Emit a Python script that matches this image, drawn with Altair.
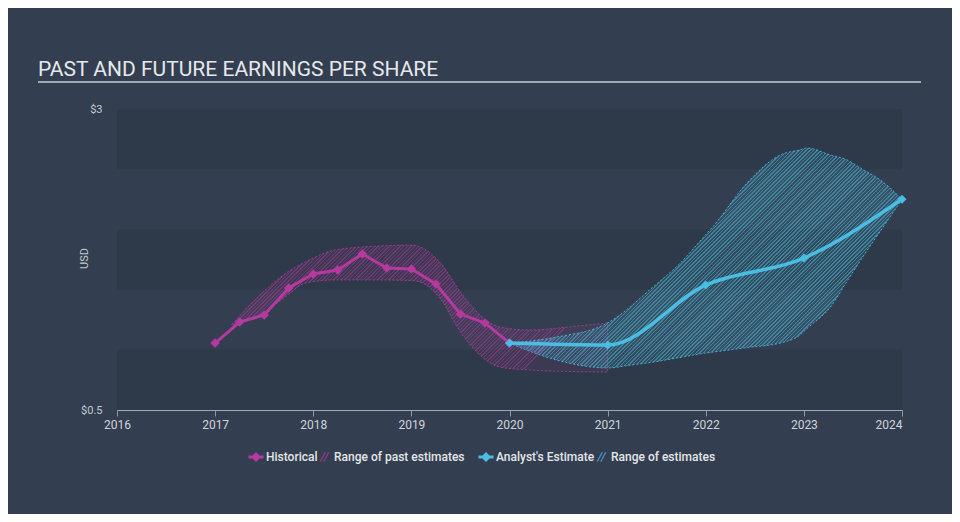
import altair as alt
import pandas as pd
import numpy as np

BG = "#333f50"
BAND = "#2e3a49"
PINK = "#b5399e"
BLUE = "#4bbde2"
FONT = "Roboto"
PW, PH = 785, 301

TITLE = "PAST AND FUTURE EARNINGS PER SHARE"

# Historical EPS (quarterly)
hist_t = [2017.0, 2017.25, 2017.5, 2017.75, 2018.0, 2018.25, 2018.5, 2018.75,
          2019.0, 2019.25, 2019.5, 2019.75, 2020.0]
hist_v = [1.056, 1.231, 1.289, 1.513, 1.630, 1.663, 1.796, 1.679,
          1.671, 1.547, 1.297, 1.223, 1.056]

# Analyst estimate
est_t = [2020, 2021, 2022, 2023, 2024]
est_v = [1.056, 1.04, 1.538, 1.762, 2.25]

# Range of past estimates
past_t = [2017.17, 2017.49, 2017.74, 2017.92, 2018.22, 2018.68, 2019.0, 2019.09,
          2019.29, 2019.50, 2019.70, 2019.90, 2020.21, 2020.6, 2021.0]
past_hi = [1.21, 1.48, 1.646, 1.729, 1.829, 1.862, 1.870, 1.854,
           1.729, 1.480, 1.289, 1.189, 1.164, 1.19, 1.223]
past_lo = [1.20, 1.306, 1.455, 1.555, 1.580, 1.580, 1.575, 1.563,
           1.430, 1.148, 0.957, 0.857, 0.832, 0.82, 0.816]

# Range of estimates
fut_t_hi = [2020.0, 2020.48, 2021.0, 2021.23, 2021.74, 2022.07, 2022.42, 2022.76,
            2023.03, 2023.44, 2023.78, 2024.0]
fut_hi = [1.056, 1.106, 1.223, 1.356, 1.721, 2.020, 2.385, 2.618,
          2.676, 2.577, 2.410, 2.25]
fut_t_lo = [2020.0, 2020.48, 2021.0, 2021.4, 2022.0, 2022.76, 2022.96, 2023.27,
            2023.6, 2024.0]
fut_lo = [1.056, 0.915, 0.849, 0.890, 0.973, 1.056, 1.123, 1.355, 1.771, 2.25]

# Background bands
band_lo = [0.5, 1.5, 2.5]
band_hi = [1.0, 2.0, 3.0]

LEG_A = ["Historical", "Range of past estimates"]
LEG_B = ["Analyst's Estimate", "Range of estimates"]
LINE_DIAMOND = "M-1.5,-0.28H1.5V0.28H-1.5Z M0,-1L1,0L0,1L-1,0Z"
HATCH = ("M-0.9,0.95L0.1,-0.95L0.4,-0.95L-0.6,0.95Z "
         "M-0.2,0.95L0.8,-0.95L1.1,-0.95L0.1,0.95Z")

xs = alt.Scale(domain=[2016, 2024], nice=False, zero=False)
ys = alt.Scale(domain=[0.5, 3], nice=False, zero=False)

hist = pd.DataFrame({"t": hist_t, "v": hist_v})
est = pd.DataFrame({"t": est_t, "v": est_v})
past = pd.DataFrame({"t": past_t, "hi": past_hi, "lo": past_lo})
fut_grid = sorted(set(fut_t_hi) | set(fut_t_lo))
fut = pd.DataFrame({
    "t": fut_grid,
    "hi": np.interp(fut_grid, fut_t_hi, fut_hi),
    "lo": np.interp(fut_grid, fut_t_lo, fut_lo),
})
bands = pd.DataFrame({"lo": band_lo, "hi": band_hi})


def hatch(rgb, alpha, base, t, hi, lo, spacing=2.6, frac=0.4):
    """Diagonal stripe fill as a sharp-stop linear gradient (bounding-box units)."""
    W = (max(t) - min(t)) * PW / 8.0
    H = (max(hi) - min(lo)) * PH / 2.5
    r = H / W
    n = int(round(W * (1 + r * r) / np.sqrt(2) / spacing))
    on = f"rgba({rgb},{alpha})"
    off = f"rgba({rgb},{base})"
    stops = []
    for i in range(n):
        a, b, c = i / n, (i + frac) / n, (i + 1) / n
        stops += [alt.GradientStop(color=on, offset=a), alt.GradientStop(color=on, offset=b),
                  alt.GradientStop(color=off, offset=b), alt.GradientStop(color=off, offset=c)]
    return alt.LinearGradient(gradient="linear", stops=stops, x1=0, y1=0, x2=1, y2=float(r))


x_axis = alt.Axis(
    values=[2016, 2017, 2018, 2019, 2020, 2021, 2022, 2023, 2024],
    format="d", title=None, grid=False,
    labelColor="#d0d4d9", labelFontSize=12, labelFont=FONT,
    labelFlush=False, labelPadding=3,
    labelAlign={"condition": {"test": "datum.value == 2024", "value": "right"}, "value": "center"},
    tickColor="#8e98a3", domainColor="#a0a8b1", tickSize=6,
)
y_axis = alt.Axis(
    values=[0.5, 3], labelExpr="'$' + datum.value", title="USD",
    grid=False, domain=False, ticks=False,
    labelColor="#c3c9cf", labelFontSize=11, labelFont=FONT, labelPadding=15,
    titleColor="#c3c9cf", titleFontSize=11, titleFont=FONT, titleFontWeight="normal",
    titleX=-33, titleY=149, titleAngle=270, titleBaseline="middle",
)

band_layer = alt.Chart(bands).mark_rect(color=BAND).encode(
    x=alt.value(0), x2=alt.value(PW),
    y=alt.Y("lo:Q", scale=ys, axis=y_axis), y2="hi:Q",
)

past_area = alt.Chart(past).mark_area(
    interpolate="monotone", fill=hatch("181,57,158", 0.5, 0.1, past_t, past_hi, past_lo),
    stroke=PINK, strokeWidth=1, strokeDash=[2, 2], strokeOpacity=0.85,
).encode(x=alt.X("t:Q", scale=xs, axis=x_axis), y=alt.Y("hi:Q", scale=ys), y2="lo:Q")

fut_area = alt.Chart(fut).mark_area(
    interpolate="monotone",
    fill=hatch("75,189,226", 0.55, 0.14, list(fut["t"]), list(fut["hi"]), list(fut["lo"])),
    stroke=BLUE, strokeWidth=1, strokeDash=[2, 2], strokeOpacity=0.85,
).encode(x=alt.X("t:Q", scale=xs), y=alt.Y("hi:Q", scale=ys), y2="lo:Q")

hist_line = alt.Chart(hist).mark_line(color=PINK, strokeWidth=3).encode(
    x=alt.X("t:Q", scale=xs), y=alt.Y("v:Q", scale=ys))
hist_pts = alt.Chart(hist).mark_point(shape="diamond", filled=True, size=90,
                                      color=PINK, opacity=1).encode(
    x=alt.X("t:Q", scale=xs), y=alt.Y("v:Q", scale=ys))

est_line = alt.Chart(est).mark_line(color=BLUE, strokeWidth=3.5, interpolate="monotone").encode(
    x=alt.X("t:Q", scale=xs), y=alt.Y("v:Q", scale=ys))
est_pts = alt.Chart(est).mark_point(shape="diamond", filled=True, size=80,
                                    color=BLUE, opacity=1).encode(
    x=alt.X("t:Q", scale=xs), y=alt.Y("v:Q", scale=ys))


def legend_layer(names, colors, lx):
    df = pd.DataFrame({"series": names, "t": [None] * len(names), "v": [None] * len(names)})
    return alt.Chart(df).mark_point(filled=True, opacity=1).encode(
        x=alt.X("t:Q", scale=xs), y=alt.Y("v:Q", scale=ys),
        color=alt.Color("series:N", scale=alt.Scale(domain=names, range=colors),
                        legend=alt.Legend(
                            title=None, orient="none", legendX=lx, legendY=342,
                            direction="horizontal", padding=0, columnPadding=0,
                            symbolSize=100, symbolStrokeWidth=0, labelOffset=4,
                            labelColor="#e3e6ea", labelFontSize=12, labelFont=FONT,
                            labelFontWeight=500,
                        )),
        shape=alt.Shape("series:N", scale=alt.Scale(domain=names, range=[LINE_DIAMOND, HATCH])),
    )


leg_a = legend_layer(LEG_A, [PINK, "#8e3a86"], 133)
leg_b = legend_layer(LEG_B, [BLUE, "#3f93b8"], 363)

title_df = pd.DataFrame({"txt": [TITLE]})
title_layer = alt.Chart(title_df).mark_text(
    align="left", baseline="alphabetic", fontSize=21, font=FONT,
    color="#e6e8eb",
).encode(x=alt.value(-79), y=alt.value(-33), text="txt:N")
rule_layer = alt.Chart(title_df).mark_rule(color="#a3a9b0", strokeWidth=2).encode(
    x=alt.value(-79), x2=alt.value(804), y=alt.value(-27))

chart = alt.layer(
    band_layer, past_area, fut_area, hist_line, hist_pts, est_line, est_pts,
    leg_a, leg_b, title_layer, rule_layer,
).resolve_scale(
    color="independent", shape="independent"
).properties(
    width=PW, height=PH,
    autosize=alt.AutoSizeParams(type="none"),
    padding={"left": 109, "top": 101, "right": 50, "bottom": 104},
    background=BG,
).configure_view(stroke=None)

chart.save("out.html", embed_options={"renderer": "svg", "actions": False})
